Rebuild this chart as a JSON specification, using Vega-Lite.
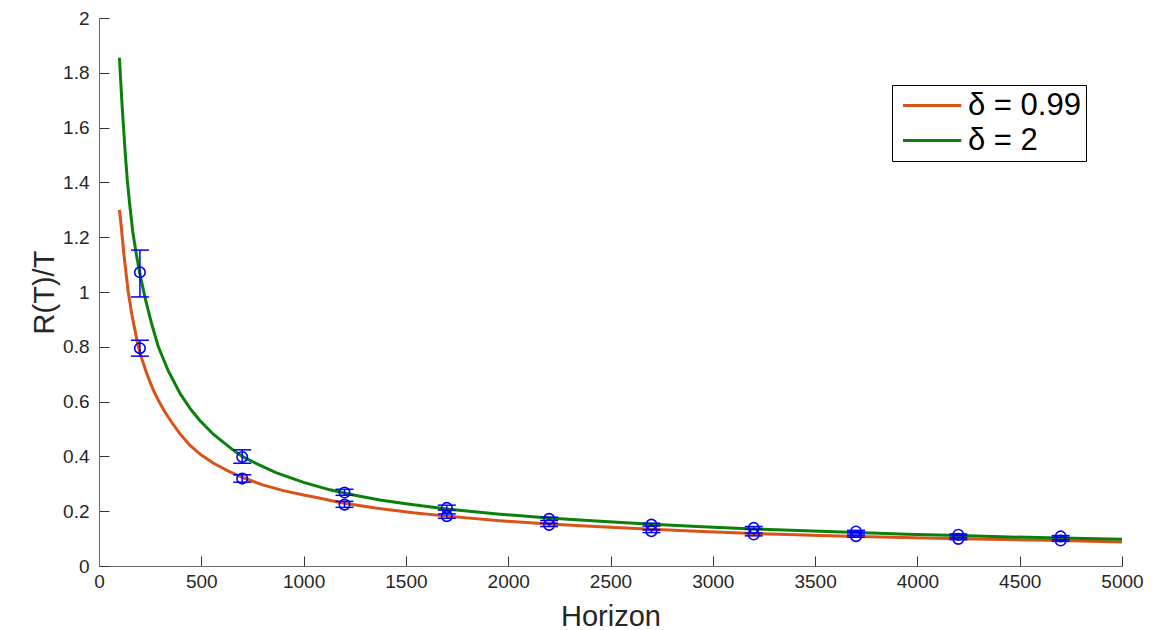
{
  "$schema": "https://vega.github.io/schema/vega-lite/v6.json",
  "autosize": "none",
  "width": 1023,
  "height": 548,
  "padding": {"left": 99, "top": 18, "right": 48, "bottom": 64},
  "background": "white",
  "config": {
    "view": {"stroke": null},
    "font": "Liberation Sans",
    "axis": {
      "labelFont": "Liberation Sans",
      "titleFont": "Liberation Sans",
      "labelFontSize": 19,
      "titleFontSize": 29,
      "titleFontWeight": "normal",
      "labelColor": "#262626",
      "titleColor": "#262626",
      "domainColor": "#6a6a6a",
      "tickColor": "#333333",
      "grid": false,
      "tickSize": -10,
      "labelFlush": false,
      "labelOverlap": false
    },
    "legend": {
      "orient": "none",
      "legendX": 793,
      "legendY": 67,
      "strokeColor": "#000000",
      "fillColor": "#ffffff",
      "padding": 5,
      "symbolType": "M-0.95,0H4.88",
      "symbolSize": 400,
      "symbolStrokeWidth": 3,
      "labelFontSize": 31,
      "labelFont": "Liberation Sans",
      "labelColor": "#000000",
      "rowPadding": 3,
      "labelOffset": 40
    }
  },
  "datasets": {
    "curves": [
      {"T": 100, "v": 1.30, "s": "δ = 0.99"},
      {"T": 110, "v": 1.23, "s": "δ = 0.99"},
      {"T": 120, "v": 1.15, "s": "δ = 0.99"},
      {"T": 132, "v": 1.07, "s": "δ = 0.99"},
      {"T": 143, "v": 1.00, "s": "δ = 0.99"},
      {"T": 160, "v": 0.92, "s": "δ = 0.99"},
      {"T": 176, "v": 0.86, "s": "δ = 0.99"},
      {"T": 192, "v": 0.80, "s": "δ = 0.99"},
      {"T": 210, "v": 0.755, "s": "δ = 0.99"},
      {"T": 230, "v": 0.71, "s": "δ = 0.99"},
      {"T": 250, "v": 0.67, "s": "δ = 0.99"},
      {"T": 270, "v": 0.635, "s": "δ = 0.99"},
      {"T": 290, "v": 0.605, "s": "δ = 0.99"},
      {"T": 320, "v": 0.565, "s": "δ = 0.99"},
      {"T": 350, "v": 0.53, "s": "δ = 0.99"},
      {"T": 396, "v": 0.482, "s": "δ = 0.99"},
      {"T": 445, "v": 0.44, "s": "δ = 0.99"},
      {"T": 500, "v": 0.405, "s": "δ = 0.99"},
      {"T": 560, "v": 0.375, "s": "δ = 0.99"},
      {"T": 630, "v": 0.347, "s": "δ = 0.99"},
      {"T": 705, "v": 0.322, "s": "δ = 0.99"},
      {"T": 800, "v": 0.296, "s": "δ = 0.99"},
      {"T": 901, "v": 0.275, "s": "δ = 0.99"},
      {"T": 1000, "v": 0.259, "s": "δ = 0.99"},
      {"T": 1064, "v": 0.250, "s": "δ = 0.99"},
      {"T": 1178, "v": 0.232, "s": "δ = 0.99"},
      {"T": 1350, "v": 0.212, "s": "δ = 0.99"},
      {"T": 1536, "v": 0.194, "s": "δ = 0.99"},
      {"T": 1700, "v": 0.182, "s": "δ = 0.99"},
      {"T": 1959, "v": 0.165, "s": "δ = 0.99"},
      {"T": 2197, "v": 0.153, "s": "δ = 0.99"},
      {"T": 2450, "v": 0.143, "s": "δ = 0.99"},
      {"T": 2700, "v": 0.134, "s": "δ = 0.99"},
      {"T": 2950, "v": 0.126, "s": "δ = 0.99"},
      {"T": 3198, "v": 0.119, "s": "δ = 0.99"},
      {"T": 3524, "v": 0.111, "s": "δ = 0.99"},
      {"T": 3705, "v": 0.108, "s": "δ = 0.99"},
      {"T": 4203, "v": 0.099, "s": "δ = 0.99"},
      {"T": 4700, "v": 0.093, "s": "δ = 0.99"},
      {"T": 5000, "v": 0.088, "s": "δ = 0.99"},
      {"T": 100, "v": 1.855, "s": "δ = 2"},
      {"T": 106, "v": 1.77, "s": "δ = 2"},
      {"T": 113, "v": 1.68, "s": "δ = 2"},
      {"T": 119, "v": 1.61, "s": "δ = 2"},
      {"T": 128, "v": 1.51, "s": "δ = 2"},
      {"T": 138, "v": 1.41, "s": "δ = 2"},
      {"T": 150, "v": 1.32, "s": "δ = 2"},
      {"T": 165, "v": 1.22, "s": "δ = 2"},
      {"T": 182, "v": 1.14, "s": "δ = 2"},
      {"T": 200, "v": 1.065, "s": "δ = 2"},
      {"T": 228, "v": 0.97, "s": "δ = 2"},
      {"T": 257, "v": 0.885, "s": "δ = 2"},
      {"T": 290, "v": 0.80, "s": "δ = 2"},
      {"T": 340, "v": 0.71, "s": "δ = 2"},
      {"T": 396, "v": 0.63, "s": "δ = 2"},
      {"T": 450, "v": 0.57, "s": "δ = 2"},
      {"T": 494, "v": 0.53, "s": "δ = 2"},
      {"T": 560, "v": 0.48, "s": "δ = 2"},
      {"T": 656, "v": 0.423, "s": "δ = 2"},
      {"T": 700, "v": 0.40, "s": "δ = 2"},
      {"T": 780, "v": 0.37, "s": "δ = 2"},
      {"T": 868, "v": 0.34, "s": "δ = 2"},
      {"T": 1000, "v": 0.305, "s": "δ = 2"},
      {"T": 1129, "v": 0.278, "s": "δ = 2"},
      {"T": 1250, "v": 0.258, "s": "δ = 2"},
      {"T": 1373, "v": 0.241, "s": "δ = 2"},
      {"T": 1500, "v": 0.227, "s": "δ = 2"},
      {"T": 1699, "v": 0.208, "s": "δ = 2"},
      {"T": 1959, "v": 0.189, "s": "δ = 2"},
      {"T": 2197, "v": 0.175, "s": "δ = 2"},
      {"T": 2450, "v": 0.163, "s": "δ = 2"},
      {"T": 2700, "v": 0.152, "s": "δ = 2"},
      {"T": 2950, "v": 0.143, "s": "δ = 2"},
      {"T": 3198, "v": 0.135, "s": "δ = 2"},
      {"T": 3524, "v": 0.127, "s": "δ = 2"},
      {"T": 3705, "v": 0.122, "s": "δ = 2"},
      {"T": 3950, "v": 0.116, "s": "δ = 2"},
      {"T": 4203, "v": 0.111, "s": "δ = 2"},
      {"T": 4450, "v": 0.106, "s": "δ = 2"},
      {"T": 4700, "v": 0.102, "s": "δ = 2"},
      {"T": 5000, "v": 0.098, "s": "δ = 2"}
    ],
    "sims": [
      {"T": 200, "m": 1.072, "lo": 0.982, "hi": 1.153, "s": "δ = 2"},
      {"T": 200, "m": 0.795, "lo": 0.766, "hi": 0.824, "s": "δ = 0.99"},
      {"T": 700, "m": 0.398, "lo": 0.375, "hi": 0.424, "s": "δ = 2"},
      {"T": 700, "m": 0.319, "lo": 0.306, "hi": 0.333, "s": "δ = 0.99"},
      {"T": 1200, "m": 0.268, "lo": 0.258, "hi": 0.280, "s": "δ = 2"},
      {"T": 1200, "m": 0.224, "lo": 0.214, "hi": 0.236, "s": "δ = 0.99"},
      {"T": 1700, "m": 0.212, "lo": 0.204, "hi": 0.222, "s": "δ = 2"},
      {"T": 1700, "m": 0.182, "lo": 0.174, "hi": 0.190, "s": "δ = 0.99"},
      {"T": 2200, "m": 0.172, "lo": 0.166, "hi": 0.178, "s": "δ = 2"},
      {"T": 2200, "m": 0.150, "lo": 0.144, "hi": 0.156, "s": "δ = 0.99"},
      {"T": 2700, "m": 0.151, "lo": 0.146, "hi": 0.156, "s": "δ = 2"},
      {"T": 2700, "m": 0.127, "lo": 0.122, "hi": 0.132, "s": "δ = 0.99"},
      {"T": 3200, "m": 0.139, "lo": 0.134, "hi": 0.144, "s": "δ = 2"},
      {"T": 3200, "m": 0.115, "lo": 0.110, "hi": 0.120, "s": "δ = 0.99"},
      {"T": 3700, "m": 0.126, "lo": 0.122, "hi": 0.130, "s": "δ = 2"},
      {"T": 3700, "m": 0.109, "lo": 0.105, "hi": 0.113, "s": "δ = 0.99"},
      {"T": 4200, "m": 0.114, "lo": 0.111, "hi": 0.117, "s": "δ = 2"},
      {"T": 4200, "m": 0.099, "lo": 0.096, "hi": 0.103, "s": "δ = 0.99"},
      {"T": 4700, "m": 0.108, "lo": 0.105, "hi": 0.111, "s": "δ = 2"},
      {"T": 4700, "m": 0.093, "lo": 0.090, "hi": 0.096, "s": "δ = 0.99"}
    ]
  },
  "layer": [
    {
      "data": {"name": "curves"},
      "mark": {"type": "line", "strokeWidth": 3, "clip": false},
      "encoding": {
        "x": {
          "field": "T", "type": "quantitative",
          "scale": {"domain": [0, 5000], "nice": false},
          "axis": {"title": "Horizon", "values": [0, 500, 1000, 1500, 2000, 2500, 3000, 3500, 4000, 4500, 5000], "format": "d", "labelPadding": 16, "titlePadding": 11}
        },
        "y": {
          "field": "v", "type": "quantitative",
          "scale": {"domain": [0, 2], "nice": false},
          "axis": {"title": "R(T)/T", "values": [0, 0.2, 0.4, 0.6, 0.8, 1, 1.2, 1.4, 1.6, 1.8, 2], "format": "~g", "labelPadding": 20, "titlePadding": 3}
        },
        "color": {
          "field": "s", "type": "nominal",
          "scale": {"domain": ["δ = 0.99", "δ = 2"], "range": ["#D95319", "#0B800B"]},
          "legend": {"title": null}
        }
      }
    },
    {
      "data": {"name": "sims"},
      "mark": {"type": "rule", "color": "#0000FF", "strokeWidth": 1.5},
      "encoding": {
        "x": {"field": "T", "type": "quantitative"},
        "y": {"field": "lo", "type": "quantitative"},
        "y2": {"field": "hi"}
      }
    },
    {
      "data": {"name": "sims"},
      "mark": {"type": "tick", "orient": "horizontal", "size": 18, "thickness": 1.5, "color": "#0000FF", "opacity": 1},
      "encoding": {
        "x": {"field": "T", "type": "quantitative"},
        "y": {"field": "lo", "type": "quantitative"}
      }
    },
    {
      "data": {"name": "sims"},
      "mark": {"type": "tick", "orient": "horizontal", "size": 18, "thickness": 1.5, "color": "#0000FF", "opacity": 1},
      "encoding": {
        "x": {"field": "T", "type": "quantitative"},
        "y": {"field": "hi", "type": "quantitative"}
      }
    },
    {
      "data": {"name": "sims"},
      "mark": {"type": "point", "shape": "circle", "filled": false, "size": 110, "strokeWidth": 1.6, "color": "#0000FF", "opacity": 1},
      "encoding": {
        "x": {"field": "T", "type": "quantitative"},
        "y": {"field": "m", "type": "quantitative"}
      }
    }
  ]
}
